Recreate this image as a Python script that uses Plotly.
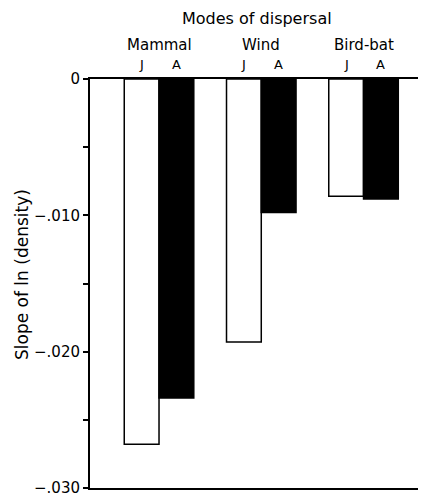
import plotly.graph_objects as go

modes = ["Mammal", "Wind", "Bird-bat"]
juvenile = [-0.0268, -0.0193, -0.0086]
adult = [-0.0234, -0.0098, -0.0088]
ytick_vals = [0, -0.005, -0.010, -0.015, -0.020, -0.025, -0.030]
ytick_text = ["0", "", "\u2212.010", "", "\u2212.020", "", "\u2212.030"]

FONT = "DejaVu Sans, Liberation Sans, Arial, sans-serif"

fig = go.Figure()
fig.add_trace(go.Bar(x=modes, y=juvenile, name="J",
                     marker=dict(color="white", line=dict(color="black", width=1.5))))
fig.add_trace(go.Bar(x=modes, y=adult, name="A",
                     marker=dict(color="black", line=dict(color="black", width=1.5))))

OFF = 8  # default page body margin
W, H = 426 - OFF, 497 - OFF
L, R, T, B = 90 - OFF, 0, 79 - OFF, 9
ph = H - T - B
pw = W - L - R

def py(pix):
    return (497 - B - pix) / ph

def px(pix):
    return (pix - 90) / pw

BLACK = "#000000"
annotations = [
    dict(text="Modes of dispersal", x=px(257), xref="paper", xanchor="center",
         y=py(19), yref="paper", yanchor="middle", showarrow=False,
         font=dict(size=16, color=BLACK)),
    dict(text="Slope of ln (density)", x=px(22), xref="paper", xanchor="center",
         y=py(275), yref="paper", yanchor="middle", showarrow=False, textangle=-90,
         font=dict(size=17, color=BLACK)),
]
half = 0.17
for i, m in enumerate(modes):
    annotations.append(dict(text=m, x=i, xref="x", xanchor="center", y=py(45),
                            yref="paper", yanchor="middle", showarrow=False,
                            font=dict(size=15, color=BLACK)))
    annotations.append(dict(text="J", x=i - half, xref="x", xanchor="center", y=py(65),
                            yref="paper", yanchor="middle", showarrow=False,
                            font=dict(size=13, color=BLACK)))
    annotations.append(dict(text="A", x=i + half, xref="x", xanchor="center", y=py(65),
                            yref="paper", yanchor="middle", showarrow=False,
                            font=dict(size=13, color=BLACK)))

fig.update_layout(
    width=W, height=H,
    margin=dict(l=L, r=R, t=T, b=B, pad=0),
    paper_bgcolor="white", plot_bgcolor="white",
    font=dict(family=FONT, color=BLACK, size=14),
    barmode="group", bargap=0.32, bargroupgap=0,
    showlegend=False,
    annotations=annotations,
    xaxis=dict(range=[-0.675, 2.611], showticklabels=False, ticks="",
               showline=True, mirror=True, linecolor=BLACK, linewidth=2,
               showgrid=False, zeroline=False, fixedrange=True),
    yaxis=dict(range=[-0.030, 0], tickvals=ytick_vals, ticktext=ytick_text,
               ticks="outside", ticklen=5, tickwidth=2, tickcolor=BLACK,
               ticklabeloverflow="allow",
               showline=True, linecolor=BLACK, linewidth=2,
               showgrid=False, zeroline=False, tickfont=dict(size=15, color=BLACK)),
)

fig.write_html("out.html")
